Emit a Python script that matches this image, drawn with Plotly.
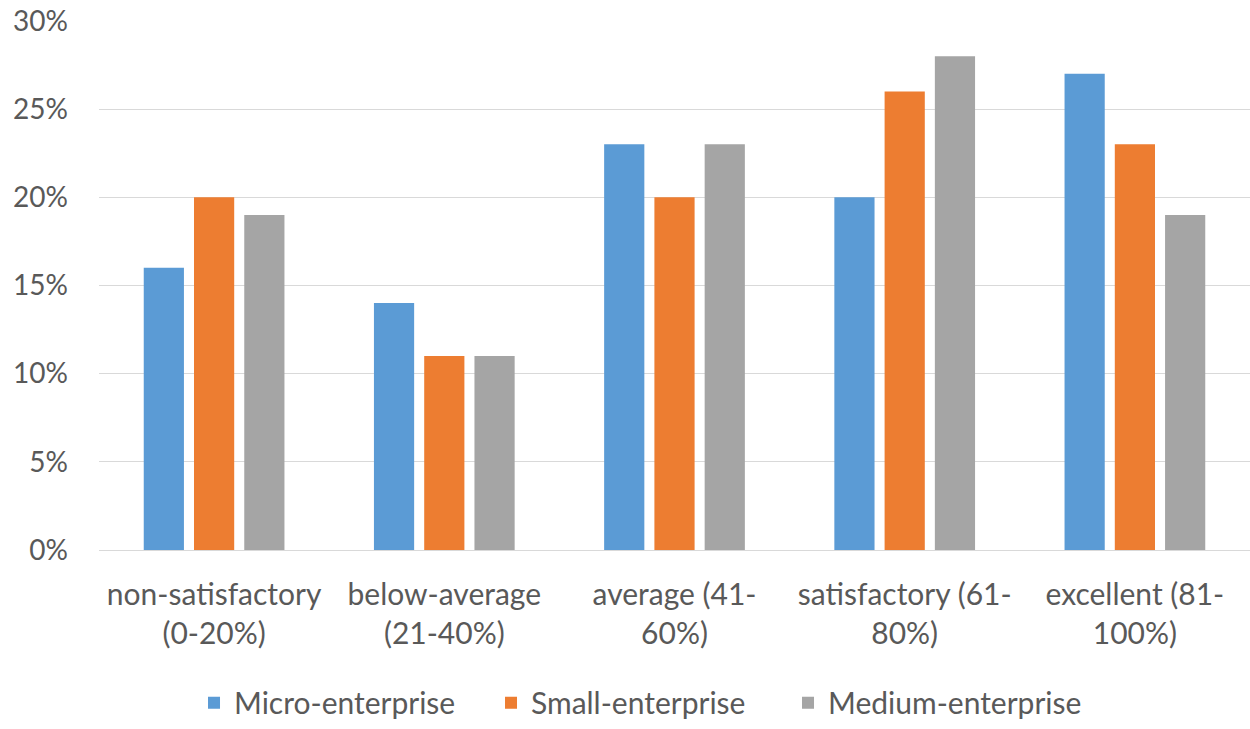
import plotly.graph_objects as go

categories = ["non-satisfactory<br>(0-20%)", "below-average<br>(21-40%)", "average (41-<br>60%)",
              "satisfactory (61-<br>80%)", "excellent (81-<br>100%)"]
micro = [0.16, 0.14, 0.23, 0.20, 0.27]
small = [0.20, 0.11, 0.20, 0.26, 0.23]
medium = [0.19, 0.11, 0.23, 0.28, 0.19]
series_names = ["Micro-enterprise", "Small-enterprise", "Medium-enterprise"]
colors = ["#5B9BD5", "#ED7D31", "#A5A5A5"]
y_tick_vals = [0, 0.05, 0.10, 0.15, 0.20, 0.25, 0.30]
y_tick_text = ["0%", "5%", "10%", "15%", "20%", "25%", "30%"]

font_family = "Lato, Open Sans, sans-serif"
fig = go.Figure()
for name, vals, c in zip(series_names, [micro, small, medium], colors):
    fig.add_trace(go.Bar(x=categories, y=vals, name=name, marker_color=c, marker_line_width=0))

fig.update_layout(
    width=1250, height=729,
    margin=dict(l=99, r=0, t=20, b=168),
    paper_bgcolor="white", plot_bgcolor="white",
    barmode="group", bargap=0.345, bargroupgap=0.2,
    font=dict(family=font_family, size=28, color="#595959"),
    showlegend=True,
    legend=dict(orientation="h", x=0.4696, xanchor="center", y=-0.288, yanchor="middle",
                font=dict(size=30, color="#595959"), itemwidth=30, traceorder="normal",
                entrywidth=252, entrywidthmode="pixels"),
)
fig.update_yaxes(range=[0, 0.3005], tickvals=y_tick_vals, ticktext=y_tick_text, showgrid=True,
                 gridcolor="#D9D9D9", gridwidth=1, zeroline=False, showline=False,
                 ticks="", ticklabelstandoff=30, automargin=False,
                 tickfont=dict(size=28, color="#595959"))
fig.update_xaxes(showline=True, linecolor="#D9D9D9", linewidth=1, ticks="", automargin=False,
                 tickfont=dict(size=30, color="#595959"), ticklabelstandoff=18)

fig.write_html("out.html", config={"displayModeBar": False},
               post_script="document.body.style.margin='0';document.body.style.overflow='hidden';")
